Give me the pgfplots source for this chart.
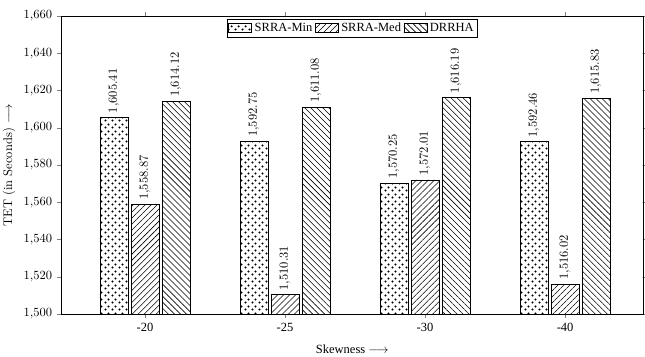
\documentclass[border=0pt]{standalone}
\usepackage{fontspec}
\usepackage{pgfplots}
\pgfplotsset{compat=1.18}
\usetikzlibrary{patterns,patterns.meta}
\newfontfamily\tnr{Liberation Serif}

\tikzdeclarepattern{
  name=bigdots,
  bounding box={(0,0) and (5.2pt,5.2pt)},
  tile size={(5.2pt,5.2pt)},
  code={
    \fill (1.3pt,1.3pt) circle (0.95pt);
    \fill (3.9pt,3.9pt) circle (0.95pt);
  }
}

\pgfplotstableread{
x min med drrha
0 1605.41 1558.87 1614.12
1 1592.75 1510.31 1611.08
2 1570.25 1572.01 1616.19
3 1592.46 1516.02 1615.83
}\datatable

\begin{document}
\begin{tikzpicture}
\begin{axis}[
  scale only axis,
  width=465.9pt, height=238.4pt,
  ybar=2.4pt, bar width=22.4pt,
  xmin=-0.6, xmax=3.56,
  ymin=1500, ymax=1660,
  ytick={1500,1520,...,1660},
  xtick=data,
  xticklabels={-20,-25,-30,-40},
  xticklabel style={font=\tnr},
  tick align=outside,
  major tick length=3.5pt,
  xlabel={{\tnr Skewness} $\longrightarrow$},
  ylabel={TET (in Seconds) $\longrightarrow$},
  xlabel style={font=\tnr, yshift=-4pt},
  legend columns=3,
  legend style={at={(0.5,0.99)}, anchor=north, font=\tnr, draw=black, inner sep=1pt},
  legend image code/.code={\draw[#1] (0cm,-0.11cm) rectangle (0.65cm,0.13cm);},
  nodes near coords,
  every node near coord/.append style={rotate=90, anchor=west, black},
  nodes near coords style={/pgf/number format/.cd, fixed, fixed zerofill, precision=2},
  axis line style={line width=0.6pt},
]
\addplot[draw=black, line width=0.6pt, pattern=bigdots] table[x=x, y=min] {\datatable};
\addplot[draw=black, line width=0.6pt, pattern={Lines[angle=45, distance=3.4pt, line width=0.45pt]}] table[x=x, y=med] {\datatable};
\addplot[draw=black, line width=0.6pt, pattern={Lines[angle=-45, distance=3.4pt, line width=0.45pt]}] table[x=x, y=drrha] {\datatable};
\legend{SRRA-Min, SRRA-Med, DRRHA}
\end{axis}
\path (current axis.south west) ++(-48.8pt,-33.6pt) coordinate (bl);
\path (current axis.north east) ++(1.2pt,12.8pt) coordinate (tr);
\pgfresetboundingbox
\useasboundingbox (bl) rectangle (tr);
\end{tikzpicture}
\end{document}
